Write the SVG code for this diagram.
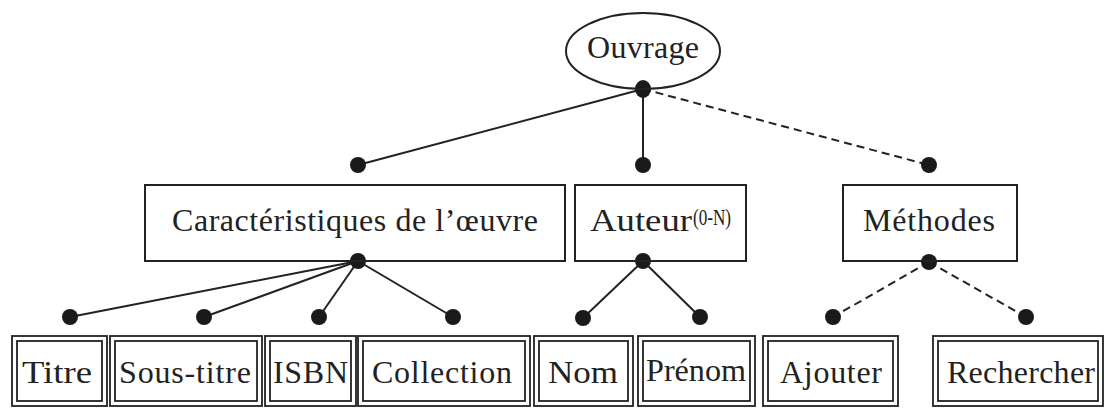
<svg xmlns="http://www.w3.org/2000/svg" width="1104" height="408" viewBox="0 0 1104 408">
<style>
.bg{fill:#ffffff}
.box{fill:none;stroke:#222;stroke-width:2}
.dbl{fill:none;stroke:#222;stroke-width:1.8}
.t{font-family:"Liberation Serif","Times New Roman",serif;font-size:32px;fill:#222}
.sup{font-family:"Liberation Serif","Times New Roman",serif;font-size:23px;fill:#222}
.ln{fill:none;stroke:#222;stroke-width:2}
.dash{fill:none;stroke:#222;stroke-width:2;stroke-dasharray:8 5}
.dot{fill:#1a1a1a}
</style>
<rect class="bg" x="0" y="0" width="1104" height="408"/>
<g id="connectors">
<line class="ln" x1="643" y1="89" x2="358" y2="165"/>
<line class="ln" x1="643" y1="89" x2="643" y2="165"/>
<line class="dash" x1="643" y1="89" x2="929" y2="165"/>
<line class="ln" x1="358" y1="261" x2="70" y2="317"/>
<line class="ln" x1="358" y1="261" x2="204" y2="317"/>
<line class="ln" x1="358" y1="261" x2="319" y2="317"/>
<line class="ln" x1="358" y1="261" x2="453" y2="317"/>
<line class="ln" x1="643" y1="261" x2="583" y2="318"/>
<line class="ln" x1="643" y1="261" x2="700" y2="317"/>
<line class="dash" x1="929" y1="262" x2="833" y2="317"/>
<line class="dash" x1="929" y1="262" x2="1026" y2="317"/>
<ellipse class="dot" cx="643" cy="89" rx="8" ry="9"/>
<circle class="dot" cx="358" cy="165" r="8"/>
<circle class="dot" cx="643" cy="165" r="8"/>
<circle class="dot" cx="929" cy="165" r="8"/>
<circle class="dot" cx="358" cy="261" r="8"/>
<circle class="dot" cx="643" cy="261" r="8"/>
<circle class="dot" cx="929" cy="262" r="8"/>
<circle class="dot" cx="70" cy="317" r="8"/>
<circle class="dot" cx="204" cy="317" r="8"/>
<circle class="dot" cx="319" cy="317" r="8"/>
<circle class="dot" cx="453" cy="317" r="8"/>
<circle class="dot" cx="583" cy="318" r="8"/>
<circle class="dot" cx="700" cy="317" r="8"/>
<circle class="dot" cx="833" cy="317" r="8"/>
<circle class="dot" cx="1026" cy="317" r="8"/>
</g>
<g id="ouvrage">
<ellipse class="box" cx="643" cy="51" rx="77" ry="38"/>
<text class="t" x="587" y="58" textLength="112" lengthAdjust="spacing">Ouvrage</text>
</g>
<g id="caracteristiques">
<rect class="box" x="145" y="185" width="420" height="76"/>
<text class="t" x="172" y="231" textLength="366" lengthAdjust="spacing">Caractéristiques de l’œuvre</text>
</g>
<g id="auteur">
<rect class="box" x="575" y="185" width="171" height="76"/>
<text class="t" x="590" y="231" textLength="102" lengthAdjust="spacingAndGlyphs">Auteur</text>
<text class="sup" x="693" y="225" textLength="38" lengthAdjust="spacingAndGlyphs">(0-N)</text>
</g>
<g id="methodes">
<rect class="box" x="843" y="185" width="174" height="76"/>
<text class="t" x="863" y="231" textLength="132" lengthAdjust="spacing">Méthodes</text>
</g>
<g id="titre">
<rect class="dbl" x="12" y="336" width="95" height="70"/>
<rect class="dbl" x="17" y="341" width="85" height="60"/>
<text class="t" x="22" y="383" textLength="70" lengthAdjust="spacingAndGlyphs">Titre</text>
</g>
<g id="sous-titre">
<rect class="dbl" x="110" y="336" width="152" height="70"/>
<rect class="dbl" x="115" y="341" width="142" height="60"/>
<text class="t" x="119" y="383" textLength="132" lengthAdjust="spacing">Sous-titre</text>
</g>
<g id="isbn">
<rect class="dbl" x="265" y="336" width="91" height="70"/>
<rect class="dbl" x="270" y="341" width="81" height="60"/>
<text class="t" x="273" y="383" textLength="75" lengthAdjust="spacing">ISBN</text>
</g>
<g id="collection">
<rect class="dbl" x="358" y="336" width="172" height="70"/>
<rect class="dbl" x="363" y="341" width="162" height="60"/>
<text class="t" x="372" y="383" textLength="140" lengthAdjust="spacing">Collection</text>
</g>
<g id="nom">
<rect class="dbl" x="534" y="336" width="99" height="70"/>
<rect class="dbl" x="539" y="341" width="89" height="60"/>
<text class="t" x="548" y="383" textLength="70" lengthAdjust="spacingAndGlyphs">Nom</text>
</g>
<g id="prenom">
<rect class="dbl" x="638" y="336" width="117" height="70"/>
<rect class="dbl" x="643" y="341" width="107" height="60"/>
<text class="t" x="646" y="381" font-size="30" textLength="100" lengthAdjust="spacingAndGlyphs">Prénom</text>
</g>
<g id="ajouter">
<rect class="dbl" x="763" y="336" width="135" height="70"/>
<rect class="dbl" x="768" y="341" width="125" height="60"/>
<text class="t" x="780" y="383" textLength="102" lengthAdjust="spacing">Ajouter</text>
</g>
<g id="rechercher">
<rect class="dbl" x="933" y="336" width="170" height="70"/>
<rect class="dbl" x="938" y="341" width="160" height="60"/>
<text class="t" x="947" y="383" textLength="148" lengthAdjust="spacing">Rechercher</text>
</g>
</svg>
